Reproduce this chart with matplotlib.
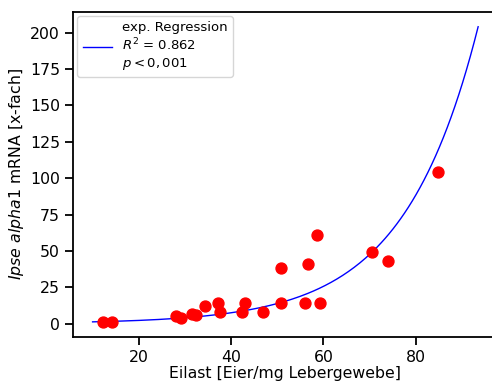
import numpy as np
import matplotlib
matplotlib.use("Agg")
import matplotlib.pyplot as plt

# Eilast vs. Ipse alpha1 Expression
eilast = [12.2, 14.2, 28.0, 29.1, 31.6, 32.3, 34.4, 37.1, 37.7, 42.3, 43.0,
          47.0, 50.7, 50.7, 56.1, 56.7, 58.6, 59.3, 70.6, 74.0, 84.9]
ipse = [1.1, 1.1, 5.0, 4.1, 6.4, 5.7, 12.1, 14.2, 7.6, 7.8, 14.4,
        8.2, 38.0, 14.2, 14.2, 40.8, 61.2, 14.2, 49.2, 43.3, 104.2]

# exp. Regression y = a * exp(b * x)
fit_a = 0.62
fit_b = 0.062
fit_range = (10.0, 93.5)

fig = plt.figure(figsize=(4.92, 3.82), dpi=100)
ax = fig.add_axes([0.149, 0.1186, 0.862, 0.85])

xx = np.linspace(fit_range[0], fit_range[1], 200)
ax.plot(xx, fit_a * np.exp(fit_b * xx), color="blue", lw=1,
        label="exp. Regression\n$R^2$ = 0.862\n$p < 0,001$")
ax.scatter(eilast, ipse, color="red", s=62, zorder=3)

ax.set_xticks([20, 40, 60, 80])
ax.set_yticks(np.arange(0, 201, 25))
ax.tick_params(labelsize=11.3, length=6, width=1.3)
for sp in ax.spines.values():
    sp.set_linewidth(1.3)

ax.set_xlabel("Eilast [Eier/mg Lebergewebe]", fontsize=11.3, labelpad=1)
ax.set_ylabel(r"$\it{Ipse\ alpha1}$ mRNA [x-fach]", fontsize=11.3, labelpad=3)
ax.legend(loc="upper left", fontsize=9.5, handlelength=2.2,
          borderaxespad=0.3)

fig.savefig("out.png", dpi=100)
